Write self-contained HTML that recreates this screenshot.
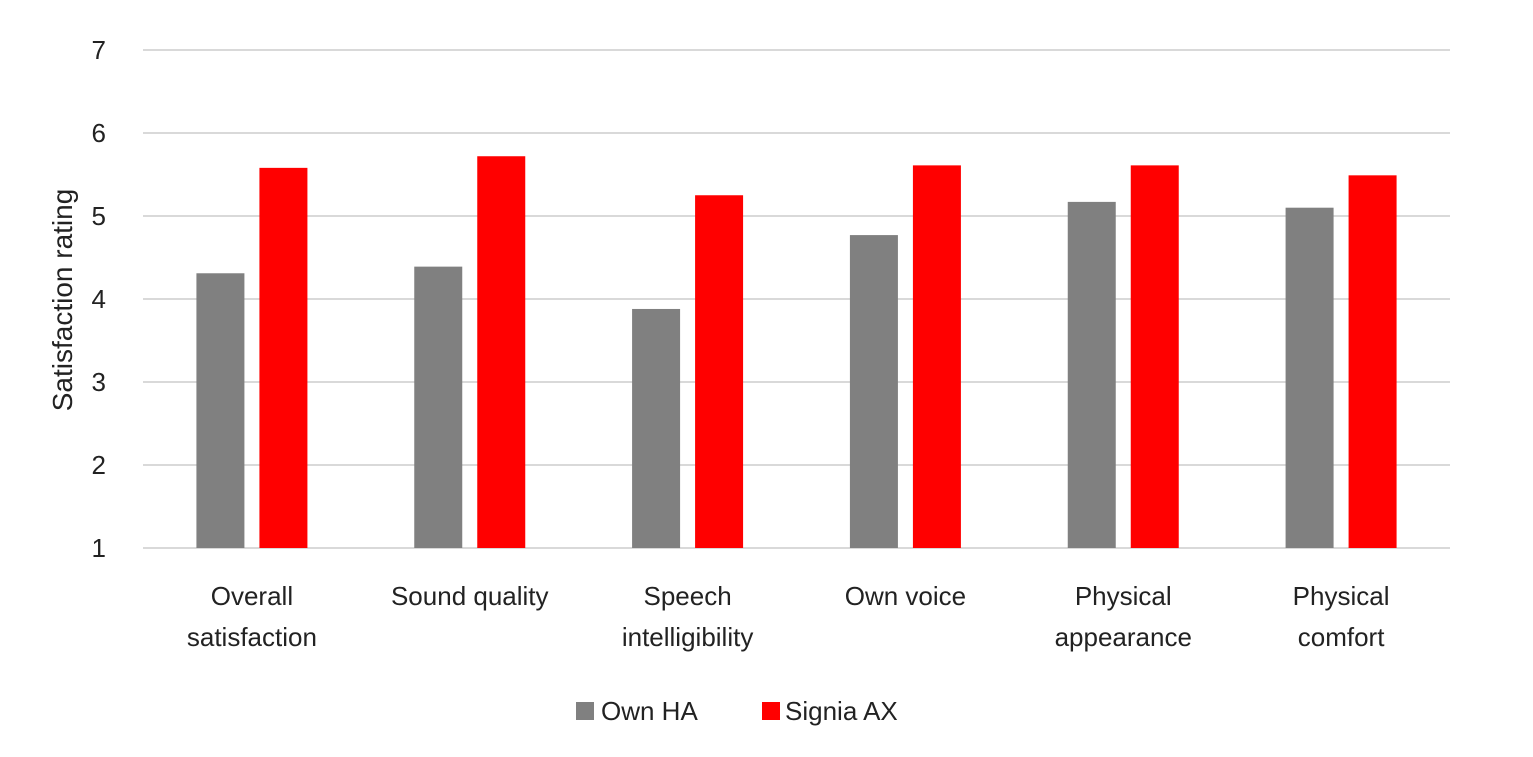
<!DOCTYPE html>
<html><head><meta charset="utf-8"><style>
html,body{margin:0;padding:0;background:#fff;width:1533px;height:757px;overflow:hidden}
svg{display:block;font-family:"Liberation Sans",sans-serif}
</style></head><body>
<svg id="chart" width="1533" height="757">
<g id="grid"></g><g id="bars"></g><g id="labels"></g>
<text transform="translate(72,300) rotate(-90)" text-anchor="middle" font-size="28" fill="#222">Satisfaction rating</text>
<g>
<rect x="576" y="702" width="18" height="18" fill="#808080"/>
<text x="601" y="720" font-size="26" fill="#222">Own HA</text>
<rect x="762" y="702" width="18" height="18" fill="#ff0000"/>
<text x="785" y="720" font-size="26" fill="#222">Signia AX</text>
</g>
</svg>
<script>
const categories=[["Overall","satisfaction"],["Sound quality"],["Speech","intelligibility"],["Own voice"],["Physical","appearance"],["Physical","comfort"]];
const ownHA=[4.31,4.39,3.88,4.77,5.17,5.10];
const signiaAX=[5.58,5.72,5.25,5.61,5.61,5.49];
const yTicks=[1,2,3,4,5,6,7];
const NS="http://www.w3.org/2000/svg";
const x0=143,x1=1450,yTop=50,yBot=548,vMin=1,vMax=7;
const y=v=>yBot-(v-vMin)/(vMax-vMin)*(yBot-yTop);
const band=(x1-x0)/categories.length;
const cx=i=>x0+band*(i+0.5);
function mk(tag,attrs,parent){const e=document.createElementNS(NS,tag);for(const k in attrs)e.setAttribute(k,attrs[k]);parent.appendChild(e);return e;}
const grid=document.getElementById('grid'),bars=document.getElementById('bars'),labels=document.getElementById('labels');
yTicks.forEach(t=>{
  const l=mk('line',{x1:x0,x2:x1,y1:y(t),y2:y(t),stroke:'#d9d9d9','stroke-width':2},grid);
  
  
  const tx=mk('text',{x:106,y:y(t)+9,'text-anchor':'end','font-size':26,fill:'#222'},grid);
  tx.textContent=t;
  
  
});
const bw=48,gap=15;
categories.forEach((c,i)=>{
  const g=mk('rect',{x:cx(i)-gap/2-bw,y:y(ownHA[i]),width:bw,height:yBot-y(ownHA[i]),fill:'#808080'},bars);
  
  
  const r=mk('rect',{x:cx(i)+gap/2,y:y(signiaAX[i]),width:bw,height:yBot-y(signiaAX[i]),fill:'#ff0000'},bars);
  
  
  c.forEach((line,j)=>{
    const t=mk('text',{x:cx(i),y:605+j*41,'text-anchor':'middle','font-size':26,fill:'#222'},labels);
    t.textContent=line;
    
    
  });
});
</script>
</body></html>
